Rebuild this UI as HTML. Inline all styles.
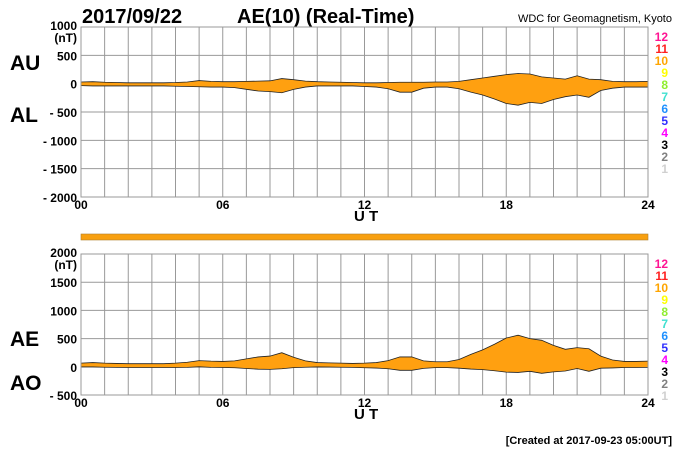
<!DOCTYPE html>
<html><head><meta charset="utf-8"><style>
body{margin:0;background:#fff;}
svg{display:block;font-family:"Liberation Sans",sans-serif;}
</style></head><body>
<svg id="c" width="700" height="450">
<text x="82" y="23" font-size="20" font-weight="bold">2017/09/22</text>
<text x="237" y="23" font-size="20" font-weight="bold">AE(10) (Real-Time)</text>
<text x="672" y="22" font-size="11" text-anchor="end">WDC for Geomagnetism, Kyoto</text>
<text x="10" y="70" font-size="21" font-weight="bold">AU</text>
<text x="10" y="122" font-size="21" font-weight="bold">AL</text>
<text x="10" y="346" font-size="21" font-weight="bold">AE</text>
<text x="10" y="390" font-size="21" font-weight="bold">AO</text>
<rect x="81" y="234" width="567" height="6" fill="#f8a010" stroke="#b08030" stroke-width="0.6"/>
<text x="672" y="444" font-size="11" font-weight="bold" text-anchor="end">[Created at 2017-09-23 05:00UT]</text>
<g id="g"></g>
</svg>
<script>
const hours = [0,0.5,1,1.5,2,2.5,3,3.5,4,4.5,5,5.5,6,6.5,7,7.5,8,8.5,9,9.5,10,10.5,11,11.5,12,12.5,13,13.5,14,14.5,15,15.5,16,16.5,17,17.5,18,18.5,19,19.5,20,20.5,21,21.5,22,22.5,23,23.5,24];
const auValues = [30,35,25,20,15,15,15,15,20,30,55,40,35,35,40,45,50,90,70,45,35,30,25,20,15,15,20,25,25,25,30,30,40,70,100,130,160,180,170,120,100,80,140,80,70,40,35,35,40];
const alValues = [-35,-40,-40,-40,-40,-40,-40,-40,-45,-50,-55,-60,-60,-70,-100,-130,-140,-160,-100,-60,-40,-40,-40,-40,-50,-60,-90,-150,-150,-80,-60,-60,-90,-150,-200,-270,-350,-380,-330,-350,-280,-230,-200,-240,-120,-80,-60,-60,-60];
const topTicks = [1000,500,0,-500,-1000,-1500,-2000];
const botTicks = [2000,1500,1000,500,0,-500];
const xTicks = ["00","06","12","18","24"];
const legendLabels = ["12","11","10","9","8","7","6","5","4","3","2","1"];
const legendColors = ["#ff1493","#ff2020","#ffa500","#ffff00","#90ee30","#40e0d0","#1e90ff","#3030ff","#ff00ff","#000","#808080","#d0d0d0"];
const NS="http://www.w3.org/2000/svg", g=document.getElementById('g');
const X0=81,X1=648;
const xs=h=>X0+(X1-X0)*h/24;
function mk(t,a,p){const e=document.createElementNS(NS,t);for(const k in a)e.setAttribute(k,a[k]);(p||g).appendChild(e);return e;}
function panel(top,bot,vmax,vmin,ticks,name,series){
  const ys=v=>top+(bot-top)*(vmax-v)/(vmax-vmin);
  for(let i=0;i<=24;i++){const l=mk('line',{x1:xs(i),x2:xs(i),y1:top,y2:bot,stroke:'#999','stroke-width':1});
    }
  ticks.forEach((t,i)=>{const l=mk('line',{x1:X0,x2:X1,y1:ys(t),y2:ys(t),stroke:'#999','stroke-width':1});
    
    const tx=mk('text',{x:77,y:ys(t)+(i==0?3:5),'font-size':12,'font-weight':'bold','text-anchor':'end'});
    tx.textContent=(t<0?'- '+(-t):String(t));
    });
  const u=mk('text',{x:77,y:ys(ticks[0])+15,'font-size':12,'font-weight':'bold','text-anchor':'end'});u.textContent='(nT)';
  
  let pts=hours.map((h,i)=>xs(h)+','+ys(series[0][i]));
  let pts2=hours.map((h,i)=>xs(h)+','+ys(series[1][i])).reverse();
  const p=mk('polygon',{points:pts.concat(pts2).join(' '),fill:'#ffa010',stroke:'none'});
  
  series.forEach((s,k)=>{const pl=mk('polyline',{points:hours.map((h,i)=>xs(h)+','+ys(s[i])).join(' '),fill:'none',stroke:'#222','stroke-width':0.8});
    });
  mk('rect',{x:X0,y:top,width:X1-X0,height:bot-top,fill:'none',stroke:'#999'});
  xTicks.forEach((t,i)=>{const tx=mk('text',{x:xs(i*6),y:bot+12,'font-size':12,'font-weight':'bold','text-anchor':'middle'});tx.textContent=t;
    });
  const ut=mk('text',{x:354,y:bot+24,'font-size':15,'font-weight':'bold'});ut.textContent='U T';
  
  legendLabels.forEach((l,i)=>{const tx=mk('text',{x:668,y:top+14+i*12,'font-size':12,'font-weight':'bold','text-anchor':'end',fill:legendColors[i]});tx.textContent=l;
    });
}
panel(27,197,1000,-2000,topTicks,'au-al',[auValues,alValues]);
const aeValues=auValues.map((a,i)=>a-alValues[i]);
const aoValues=auValues.map((a,i)=>(a+alValues[i])/2);
panel(254,395,2000,-500,botTicks,'ae-ao',[aeValues,aoValues]);
</script>
</body></html>
